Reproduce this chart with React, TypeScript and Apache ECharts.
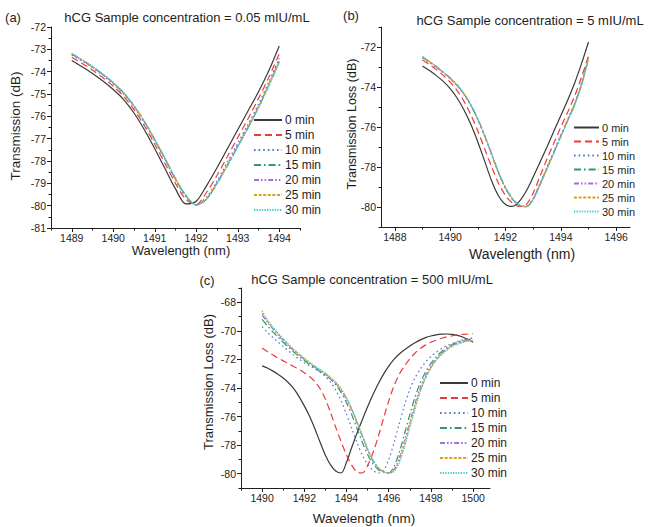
import { useEffect, useRef } from "react";
import * as echarts from "echarts";

const seriesNames = ["0 min", "5 min", "10 min", "15 min", "20 min", "25 min", "30 min"];

// Panel (a): hCG 0.05 mIU/mL
const waveA = [1489, 1489.25, 1489.5, 1489.75, 1490, 1490.25, 1490.5, 1490.75, 1491, 1491.25, 1491.5, 1491.75, 1492, 1492.25, 1492.5, 1492.75, 1493, 1493.25, 1493.5, 1493.75, 1494];
const a0 = [-73.5, -73.78, -74.08, -74.42, -74.8, -75.25, -75.85, -76.6, -77.45, -78.35, -79.25, -79.92, -79.8, -79.1, -78.3, -77.45, -76.6, -75.75, -74.9, -73.95, -72.85];
const a5 = [-73.35, -73.63, -73.93, -74.27, -74.65, -75.1, -75.7, -76.42, -77.25, -78.12, -79.0, -79.72, -79.95, -79.4, -78.65, -77.8, -76.95, -76.1, -75.2, -74.25, -73.2];
const a10 = [-73.25, -73.53, -73.83, -74.17, -74.55, -75.0, -75.58, -76.28, -77.1, -77.95, -78.85, -79.6, -79.97, -79.6, -78.9, -78.05, -77.2, -76.35, -75.45, -74.45, -73.4];
const a15 = [-73.2, -73.48, -73.78, -74.12, -74.5, -74.95, -75.53, -76.23, -77.05, -77.9, -78.8, -79.55, -79.97, -79.7, -79.0, -78.2, -77.35, -76.5, -75.6, -74.6, -73.55];
const a20 = [-73.22, -73.5, -73.8, -74.14, -74.52, -74.97, -75.55, -76.25, -77.07, -77.92, -78.82, -79.57, -79.97, -79.68, -78.97, -78.15, -77.3, -76.45, -75.55, -74.55, -73.5];
const a25 = [-73.2, -73.48, -73.78, -74.12, -74.5, -74.95, -75.53, -76.23, -77.04, -77.89, -78.79, -79.55, -79.97, -79.7, -79.0, -78.2, -77.35, -76.5, -75.6, -74.6, -73.55];
const a30 = [-73.18, -73.46, -73.76, -74.1, -74.48, -74.93, -75.51, -76.21, -77.02, -77.87, -78.77, -79.53, -79.97, -79.72, -79.03, -78.23, -77.38, -76.53, -75.63, -74.65, -73.6];

// Panel (b): hCG 5 mIU/mL
const waveB = [1489, 1489.25, 1489.5, 1489.75, 1490, 1490.25, 1490.5, 1490.75, 1491, 1491.25, 1491.5, 1491.75, 1492, 1492.25, 1492.5, 1492.75, 1493, 1493.25, 1493.5, 1493.75, 1494, 1494.25, 1494.5, 1494.75, 1495];
const b0 = [-72.95, -73.18, -73.43, -73.72, -74.08, -74.55, -75.15, -75.88, -76.75, -77.72, -78.7, -79.45, -79.88, -79.97, -79.72, -79.2, -78.5, -77.75, -77.0, -76.2, -75.42, -74.65, -73.8, -72.82, -71.75];
const b5 = [-72.65, -72.88, -73.13, -73.42, -73.76, -74.18, -74.72, -75.4, -76.2, -77.1, -78.0, -78.82, -79.42, -79.8, -79.97, -79.88, -79.3, -78.45, -77.6, -76.8, -76.0, -75.25, -74.45, -73.5, -72.45];
const b10 = [-72.55, -72.78, -73.03, -73.3, -73.6, -73.95, -74.38, -74.95, -75.65, -76.48, -77.4, -78.32, -79.08, -79.62, -79.92, -79.97, -79.55, -78.8, -78.0, -77.2, -76.4, -75.6, -74.8, -73.8, -72.5];
const b15 = [-72.5, -72.73, -72.98, -73.25, -73.55, -73.9, -74.33, -74.9, -75.6, -76.43, -77.35, -78.27, -79.03, -79.58, -79.9, -79.98, -79.6, -78.85, -78.05, -77.25, -76.45, -75.65, -74.85, -73.85, -72.55];
const b20 = [-72.52, -72.75, -73.0, -73.27, -73.57, -73.92, -74.35, -74.92, -75.62, -76.45, -77.37, -78.29, -79.05, -79.6, -79.91, -79.98, -79.62, -78.88, -78.08, -77.28, -76.48, -75.68, -74.88, -73.88, -72.58];
const b25 = [-72.5, -72.73, -72.98, -73.26, -73.56, -73.91, -74.34, -74.91, -75.61, -76.44, -77.36, -78.28, -79.04, -79.59, -79.9, -79.98, -79.61, -78.87, -78.07, -77.27, -76.47, -75.67, -74.87, -73.87, -72.56];
const b30 = [-72.48, -72.72, -72.97, -73.25, -73.55, -73.9, -74.33, -74.9, -75.6, -76.43, -77.35, -78.27, -79.03, -79.58, -79.9, -79.98, -79.63, -78.9, -78.1, -77.3, -76.5, -75.7, -74.9, -73.9, -72.6];

// Panel (c): hCG 500 mIU/mL
const waveC = [1490, 1490.25, 1490.5, 1490.75, 1491, 1491.25, 1491.5, 1491.75, 1492, 1492.25, 1492.5, 1492.75, 1493, 1493.25, 1493.5, 1493.75, 1494, 1494.25, 1494.5, 1494.75, 1495, 1495.25, 1495.5, 1495.75, 1496, 1496.25, 1496.5, 1496.75, 1497, 1497.25, 1497.5, 1497.75, 1498, 1498.25, 1498.5, 1498.75, 1499, 1499.25, 1499.5, 1499.75, 1500];
const c0 = [-72.45, -72.6, -72.8, -73.03, -73.3, -73.63, -74.05, -74.6, -75.25, -75.98, -76.85, -77.8, -78.7, -79.4, -79.83, -79.95, -79.2, -78.15, -77.15, -76.22, -75.32, -74.48, -73.72, -73.05, -72.47, -72.0, -71.62, -71.32, -71.06, -70.83, -70.63, -70.47, -70.36, -70.28, -70.23, -70.22, -70.25, -70.32, -70.43, -70.6, -70.8];
const c5 = [-71.2, -71.45, -71.68, -71.9, -72.1, -72.3, -72.5, -72.7, -72.93, -73.2, -73.55, -74.05, -74.78, -75.75, -76.8, -77.78, -78.68, -79.42, -79.88, -79.95, -79.42, -78.55, -77.42, -76.15, -74.92, -73.85, -73.05, -72.45, -71.95, -71.55, -71.23, -70.98, -70.8, -70.65, -70.52, -70.42, -70.35, -70.28, -70.25, -70.22, -70.2];
const c10 = [-69.7, -70.1, -70.45, -70.78, -71.1, -71.4, -71.7, -71.98, -72.23, -72.45, -72.65, -72.9, -73.2, -73.6, -74.18, -74.93, -75.83, -76.83, -77.83, -78.7, -79.35, -79.75, -79.95, -79.8, -79.0, -77.85, -76.5, -75.2, -74.1, -73.28, -72.66, -72.17, -71.8, -71.5, -71.25, -71.05, -70.9, -70.75, -70.63, -70.55, -70.5];
const c15 = [-69.2, -69.65, -70.05, -70.43, -70.8, -71.15, -71.48, -71.8, -72.08, -72.35, -72.6, -72.85, -73.1, -73.4, -73.8, -74.33, -75.03, -75.88, -76.83, -77.8, -78.65, -79.3, -79.7, -79.9, -79.95, -79.5, -78.5, -77.2, -75.85, -74.62, -73.62, -72.87, -72.27, -71.82, -71.46, -71.17, -70.96, -70.8, -70.68, -70.6, -70.55];
const c20 = [-68.9, -69.4, -69.85, -70.28, -70.68, -71.05, -71.38, -71.7, -72.0, -72.28, -72.55, -72.8, -73.05, -73.35, -73.7, -74.18, -74.8, -75.55, -76.45, -77.4, -78.35, -79.1, -79.6, -79.85, -79.95, -79.7, -78.9, -77.7, -76.35, -75.07, -73.97, -73.12, -72.47, -71.97, -71.57, -71.26, -71.01, -70.85, -70.72, -70.65, -70.6];
const c25 = [-68.75, -69.3, -69.77, -70.2, -70.6, -70.98, -71.33, -71.65, -71.95, -72.24, -72.5, -72.75, -73.0, -73.3, -73.65, -74.12, -74.72, -75.48, -76.4, -77.35, -78.28, -79.05, -79.58, -79.85, -79.95, -79.8, -79.1, -77.95, -76.6, -75.3, -74.17, -73.27, -72.57, -72.02, -71.62, -71.31, -71.06, -70.9, -70.78, -70.7, -70.65];
const c30 = [-68.6, -69.2, -69.7, -70.14, -70.55, -70.94, -71.29, -71.6, -71.9, -72.19, -72.45, -72.7, -72.95, -73.25, -73.6, -74.06, -74.68, -75.45, -76.36, -77.3, -78.22, -79.0, -79.55, -79.85, -79.97, -79.85, -79.25, -78.15, -76.8, -75.47, -74.27, -73.32, -72.62, -72.07, -71.67, -71.36, -71.11, -70.95, -70.82, -70.75, -70.7];

// Axis ticks
const xMajorA = [1489, 1490, 1491, 1492, 1493, 1494];
const xMinorA = [1488.5, 1489.5, 1490.5, 1491.5, 1492.5, 1493.5, 1494.5];
const yMajorA = [-81, -80, -79, -78, -77, -76, -75, -74, -73, -72];
const yMinorA = [-80.5, -79.5, -78.5, -77.5, -76.5, -75.5, -74.5, -73.5, -72.5];
const xMajorB = [1488, 1490, 1492, 1494, 1496];
const xMinorB = [1489, 1491, 1493, 1495];
const yMajorB = [-80, -78, -76, -74, -72];
const yMinorB = [-81, -79, -77, -75, -73, -71];
const xMajorC = [1490, 1492, 1494, 1496, 1498, 1500];
const xMinorC = [1489, 1491, 1493, 1495, 1497, 1499];
const yMajorC = [-80, -78, -76, -74, -72, -70, -68];
const yMinorC = [-81, -79, -77, -75, -73, -71, -69, -67];

const colors = ["#3a3a3a", "#ef3a3a", "#4a78d8", "#2f9a62", "#a46ee0", "#d7a11c", "#40cbd6"];
const dashes: any[] = ["solid", [7, 4], [1.6, 3], [7, 3, 1.6, 3], [5, 2, 1.6, 2, 1.6, 2], [3, 1.6], [1.3, 1.3]];

const FONT = "'Liberation Sans', Arial, Helvetica, sans-serif";
const INK = "#1e1e1e";

function zip(xs: number[], ys: number[]) {
  return xs.map((x, i) => [x, ys[i]]);
}

function axes(dim: "x" | "y", gridIndex: number, min: number, max: number, majors: number[], minors: number[]) {
  const pos = dim === "x" ? "bottom" : "left";
  return [
    {
      type: "value",
      gridIndex,
      min,
      max,
      position: pos,
      axisLine: { show: true, onZero: false, lineStyle: { color: INK, width: 1 } },
      axisTick: { show: true, inside: false, length: 4, customValues: majors, lineStyle: { color: INK, width: 1 } },
      axisLabel: {
        show: true,
        customValues: majors,
        fontSize: 10.5,
        color: INK,
        fontFamily: FONT,
        margin: dim === "x" ? 4 : 5,
        formatter: (v: number) => String(v),
      },
      splitLine: { show: false },
    },
    {
      type: "value",
      gridIndex,
      min,
      max,
      position: pos,
      axisLine: { show: false, onZero: false },
      axisTick: { show: true, inside: false, length: 2.5, customValues: minors, lineStyle: { color: INK, width: 1 } },
      axisLabel: { show: false },
      splitLine: { show: false },
    },
  ];
}

function panelSeries(gridIndex: number, xs: number[], sets: number[][]) {
  return sets.map((ys, i) => ({
    type: "line",
    name: seriesNames[i],
    xAxisIndex: gridIndex * 2,
    yAxisIndex: gridIndex * 2,
    data: zip(xs, ys),
    symbol: "none",
    smooth: 0.3,
    lineStyle: { color: colors[i], width: 1.2, type: dashes[i] },
    itemStyle: { color: colors[i] },
    z: 2 + i,
  }));
}

function legend(left: number, top: number, fontSize: number, itemHeight: number, itemWidth: number) {
  return {
    data: seriesNames,
    orient: "vertical",
    left,
    top,
    padding: 0,
    itemWidth,
    itemHeight,
    itemGap: 3,
    selectedMode: false,
    itemStyle: { opacity: 0, borderWidth: 0 },
    textStyle: { fontSize, color: INK, fontFamily: FONT, padding: [0, 0, 0, -2] },
  };
}

function txt(text: string, x: number, y: number, fontSize: number, rotate = false) {
  return {
    type: "text",
    x,
    y,
    rotation: rotate ? Math.PI / 2 : 0,
    style: {
      text,
      fontSize,
      fontFamily: FONT,
      fill: INK,
      textAlign: "center",
      textVerticalAlign: "middle",
      align: "center",
      verticalAlign: "middle",
    },
  };
}

export default function App() {
  const ref = useRef<HTMLDivElement>(null);
  useEffect(() => {
    if (!ref.current) return;
    const chart = echarts.init(ref.current, null, { renderer: "svg" });
    const grids = [
      { left: 51, top: 27, width: 249, height: 201 },
      { left: 381, top: 27, width: 249, height: 200 },
      { left: 241, top: 288, width: 249, height: 200 },
    ];
    chart.setOption({
      animation: false,
      backgroundColor: "#ffffff",
      textStyle: { fontFamily: FONT },
      grid: grids.map((g) => ({ ...g, containLabel: false })),
      xAxis: [
        ...axes("x", 0, 1488.5, 1494.5, xMajorA, xMinorA),
        ...axes("x", 1, 1487.5, 1496.5, xMajorB, xMinorB),
        ...axes("x", 2, 1489, 1500.8, xMajorC, xMinorC),
      ],
      yAxis: [
        ...axes("y", 0, -81, -72, yMajorA, yMinorA),
        ...axes("y", 1, -81, -71, yMajorB, yMinorB),
        ...axes("y", 2, -81, -67, yMajorC, yMinorC),
      ],
      legend: [
        legend(253, 114, 12, 12, 28),
        legend(573, 122, 11, 11, 25),
        legend(439, 377, 12, 12, 28),
      ],
      series: [
        ...panelSeries(0, waveA, [a0, a5, a10, a15, a20, a25, a30]),
        ...panelSeries(1, waveB, [b0, b5, b10, b15, b20, b25, b30]),
        ...panelSeries(2, waveC, [c0, c5, c10, c15, c20, c25, c30]),
      ],
      graphic: {
        elements: [
          txt("(a)", 13, 17, 13),
          txt("hCG Sample concentration = 0.05 mIU/mL", 187, 17, 13),
          txt("(b)", 351, 15, 13),
          txt("hCG Sample concentration = 5 mIU/mL", 530, 20, 13),
          txt("(c)", 207, 280, 13),
          txt("hCG Sample concentration = 500 mIU/mL", 372, 279, 13),
          txt("Transmission (dB)", 15, 126, 13.5, true),
          txt("Wavelength (nm)", 181, 250, 13),
          txt("Transmission Loss (dB)", 352, 124, 12.5, true),
          txt("Wavelength (nm)", 522, 254, 14),
          txt("Transmission Loss (dB)", 208, 382, 13, true),
          txt("Wavelength (nm)", 364, 518, 13.5),
        ],
      },
    });
    return () => chart.dispose();
  }, []);
  return (
    <div
      ref={ref}
      style={{ position: "fixed", left: 0, top: 0, width: 648, height: 527, background: "#fff" }}
    />
  );
}
